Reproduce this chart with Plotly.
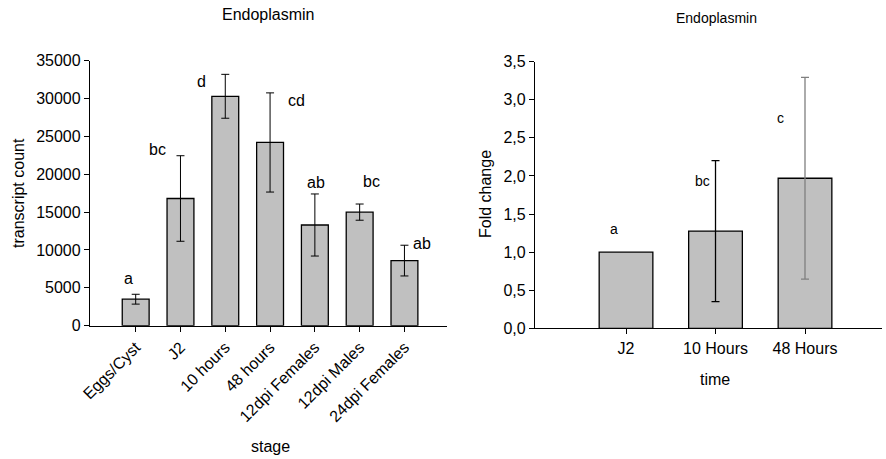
import plotly.graph_objects as go

# ---------------- data ----------------
stages = ["Eggs/Cyst", "J2", "10 hours", "48 hours", "12dpi Females", "12dpi Males", "24dpi Females"]
transcript_count = [3500, 16800, 30300, 24200, 13300, 15000, 8600]
transcript_err = [650, 5650, 2900, 6550, 4100, 1070, 2030]
stage_letters = ["a", "bc", "d", "cd", "ab", "bc", "ab"]

times = ["J2", "10 Hours", "48 Hours"]
fold_change = [1.0, 1.276, 1.97]
fold_err = [0.0, 0.925, 1.325]
time_letters = ["a", "bc", "c"]

left_ticks = [0, 5000, 10000, 15000, 20000, 25000, 30000, 35000]
right_tickvals = [0.0, 0.5, 1.0, 1.5, 2.0, 2.5, 3.0, 3.5]
right_ticktext = ["0,0", "0,5", "1,0", "1,5", "2,0", "2,5", "3,0", "3,5"]

# ---------------- style / layout ----------------
W, H = 886, 459
FONT = "Liberation Sans, Arial, sans-serif"
BAR = "#c0c0c0"
err_colors = ["black", "black", "#7f7f7f"]

# letter annotation placement (x offset from category index, y in data units)
left_letter_dx = [-0.17, -0.51, -0.54, 0.59, 0.02, 0.27, 0.40]
left_letter_y = [6170, 23300, 32300, 29800, 18850, 19000, 10800]
right_letter_dx = [-0.13, -0.14, -0.27]
right_letter_y = [1.31, 1.93, 2.76]

fig = go.Figure()

fig.add_trace(go.Bar(
    x=stages, y=transcript_count,
    marker=dict(color=BAR, line=dict(color="black", width=1.3)),
    width=0.6,
    error_y=dict(type="data", array=transcript_err, color="black", thickness=1, width=4),
    xaxis="x", yaxis="y", showlegend=False,
))

fig.add_trace(go.Bar(
    x=times, y=fold_change,
    marker=dict(color=BAR, line=dict(color="black", width=1.3)),
    width=0.6,
    xaxis="x2", yaxis="y2", showlegend=False,
))
for t, v, e, c in zip(times, fold_change, fold_err, err_colors):
    if e > 0:
        fig.add_trace(go.Scatter(
            x=[t], y=[v], mode="markers",
            marker=dict(size=1, opacity=0),
            error_y=dict(type="data", array=[e], color=c, thickness=1.3, width=4),
            xaxis="x2", yaxis="y2", showlegend=False, hoverinfo="skip",
        ))


def label(x, y, text, size, xref="paper", yref="paper", angle=0):
    return dict(x=x, y=y, xref=xref, yref=yref, text=text, showarrow=False,
                xanchor="center", yanchor="middle", textangle=angle,
                font=dict(size=size, color="black", family=FONT))


annotations = []
for i, t in enumerate(stage_letters):
    annotations.append(label(i + left_letter_dx[i], left_letter_y[i], t, 16, "x", "y"))
for i, t in enumerate(time_letters):
    annotations.append(label(i + right_letter_dx[i], right_letter_y[i], t, 14, "x2", "y2"))

# titles
annotations += [
    label(268 / W, 1 - 15 / H, "Endoplasmin", 16),
    label(716 / W, 1 - 18 / H, "Endoplasmin", 14),
    label(18 / W, 1 - 193 / H, "transcript count", 16, angle=-90),
    label(270 / W, 1 - 446 / H, "stage", 16),
    label(485 / W, 1 - 194 / H, "Fold change", 16, angle=-90),
    label(715 / W, 1 - 379 / H, "time", 16),
]

axis_common = dict(showline=True, linecolor="black", linewidth=1.3, showgrid=False, zeroline=False,
                   ticks="outside", ticklen=5, tickcolor="black", tickwidth=1, automargin=False,
                   tickfont=dict(size=16, color="black", family=FONT))

fig.update_layout(
    width=W, height=H, margin=dict(l=0, r=0, t=0, b=0),
    plot_bgcolor="white", paper_bgcolor="white",
    font=dict(family=FONT, color="black"),
    xaxis=dict(domain=[90 / W, 447 / W], range=[-1.02, 6.95], type="category",
               tickangle=-45, anchor="y", **axis_common),
    yaxis=dict(domain=[(H - 325.7) / H, (H - 60.7) / H], range=[0, 35000],
               tickvals=left_ticks, ticktext=[str(v) for v in left_ticks], anchor="x", **axis_common),
    xaxis2=dict(domain=[535 / W, 881.7 / W], range=[-1.017, 2.857], type="category",
                anchor="y2", **axis_common),
    yaxis2=dict(domain=[(H - 328.3) / H, (H - 61.7) / H], range=[0, 3.5],
                tickvals=right_tickvals, ticktext=right_ticktext, anchor="x2", **axis_common),
    annotations=annotations,
)

fig.write_html("out.html")
